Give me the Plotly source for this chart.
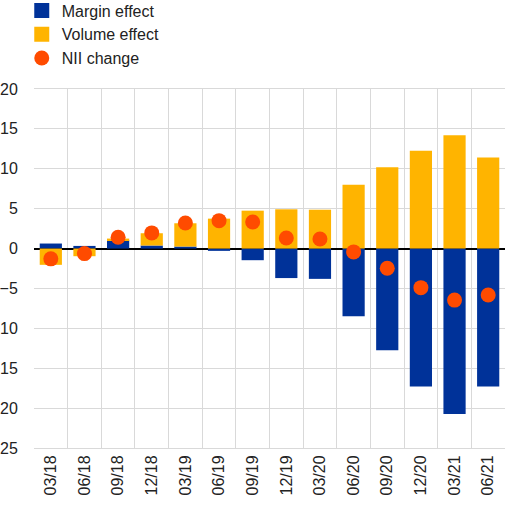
import plotly.graph_objects as go

categories = ["03/18", "06/18", "09/18", "12/18", "03/19", "06/19", "09/19",
              "12/19", "03/20", "06/20", "09/20", "12/20", "03/21", "06/21"]
margin_effect = [0.63, 0.33, 1.04, 0.38, 0.25, -0.29, -1.46, -3.7, -3.8,
                 -8.5, -12.75, -17.3, -20.75, -17.3]
volume_effect = [-2.04, -0.96, 0.21, 1.54, 2.92, 3.75, 4.75, 4.92, 4.87,
                 8.0, 10.2, 12.25, 14.2, 11.4]
nii_change = [-1.29, -0.63, 1.42, 1.96, 3.2, 3.5, 3.33, 1.33, 1.2,
              -0.42, -2.46, -4.9, -6.46, -5.83]
y_ticks = [20, 15, 10, 5, 0, -5, -10, -15, -20, -25]

BLUE = "#003299"
YELLOW = "#FFB400"
RED = "#FF4B00"
FONT = "Liberation Sans"

fig = go.Figure()
fig.add_trace(go.Bar(x=categories, y=margin_effect, name="Margin effect",
                     marker=dict(color=BLUE, line=dict(width=0)), showlegend=False))
fig.add_trace(go.Bar(x=categories, y=volume_effect, name="Volume effect",
                     marker=dict(color=YELLOW, line=dict(width=0)), showlegend=False))
fig.add_trace(go.Scatter(x=categories, y=nii_change, name="NII change", mode="markers",
                         marker=dict(color=RED, size=15, line=dict(width=0)),
                         showlegend=False))
# legend entries (square swatches like the reference)
fig.add_trace(go.Scatter(x=[None], y=[None], name="Margin effect", mode="markers",
                         marker=dict(color=BLUE, size=15, symbol="square")))
fig.add_trace(go.Scatter(x=[None], y=[None], name="Volume effect", mode="markers",
                         marker=dict(color=YELLOW, size=15, symbol="square")))
fig.add_trace(go.Scatter(x=[None], y=[None], name="NII change", mode="markers",
                         marker=dict(color=RED, size=15)))

fig.update_layout(
    width=520, height=508,
    barmode="relative", bargap=0.34,
    plot_bgcolor="white", paper_bgcolor="white",
    margin=dict(l=34, r=15, t=89, b=60, autoexpand=False),
    font=dict(family=FONT, size=16, color="#222222"),
    legend=dict(x=-0.026, y=1.266, xanchor="left", yanchor="top",
                font=dict(size=16, family=FONT), tracegroupgap=0,
                bgcolor="rgba(0,0,0,0)"),
    showlegend=True,
)
fig.update_xaxes(type="category", range=[-0.5, 13.5], tickson="boundaries",
                 showgrid=True, gridcolor="#d9d9d9", gridwidth=1, tickangle=-90,
                 ticks="outside", ticklen=4, tickcolor="rgba(0,0,0,0)",
                 showline=True, linecolor="#d9d9d9", mirror=True,
                 automargin=False, tickfont=dict(size=16, family=FONT))
fig.update_yaxes(range=[-25, 20], tickvals=y_ticks, showgrid=True,
                 gridcolor="#d9d9d9", gridwidth=1, zeroline=True,
                 zerolinecolor="black", zerolinewidth=1.5,
                 ticks="outside", ticklen=12, tickcolor="rgba(0,0,0,0)",
                 automargin=False, tickfont=dict(size=16, family=FONT))

fig.write_html("out.html", config={"displayModeBar": False},
               post_script="document.body.style.margin='0';document.body.style.padding='0';")
